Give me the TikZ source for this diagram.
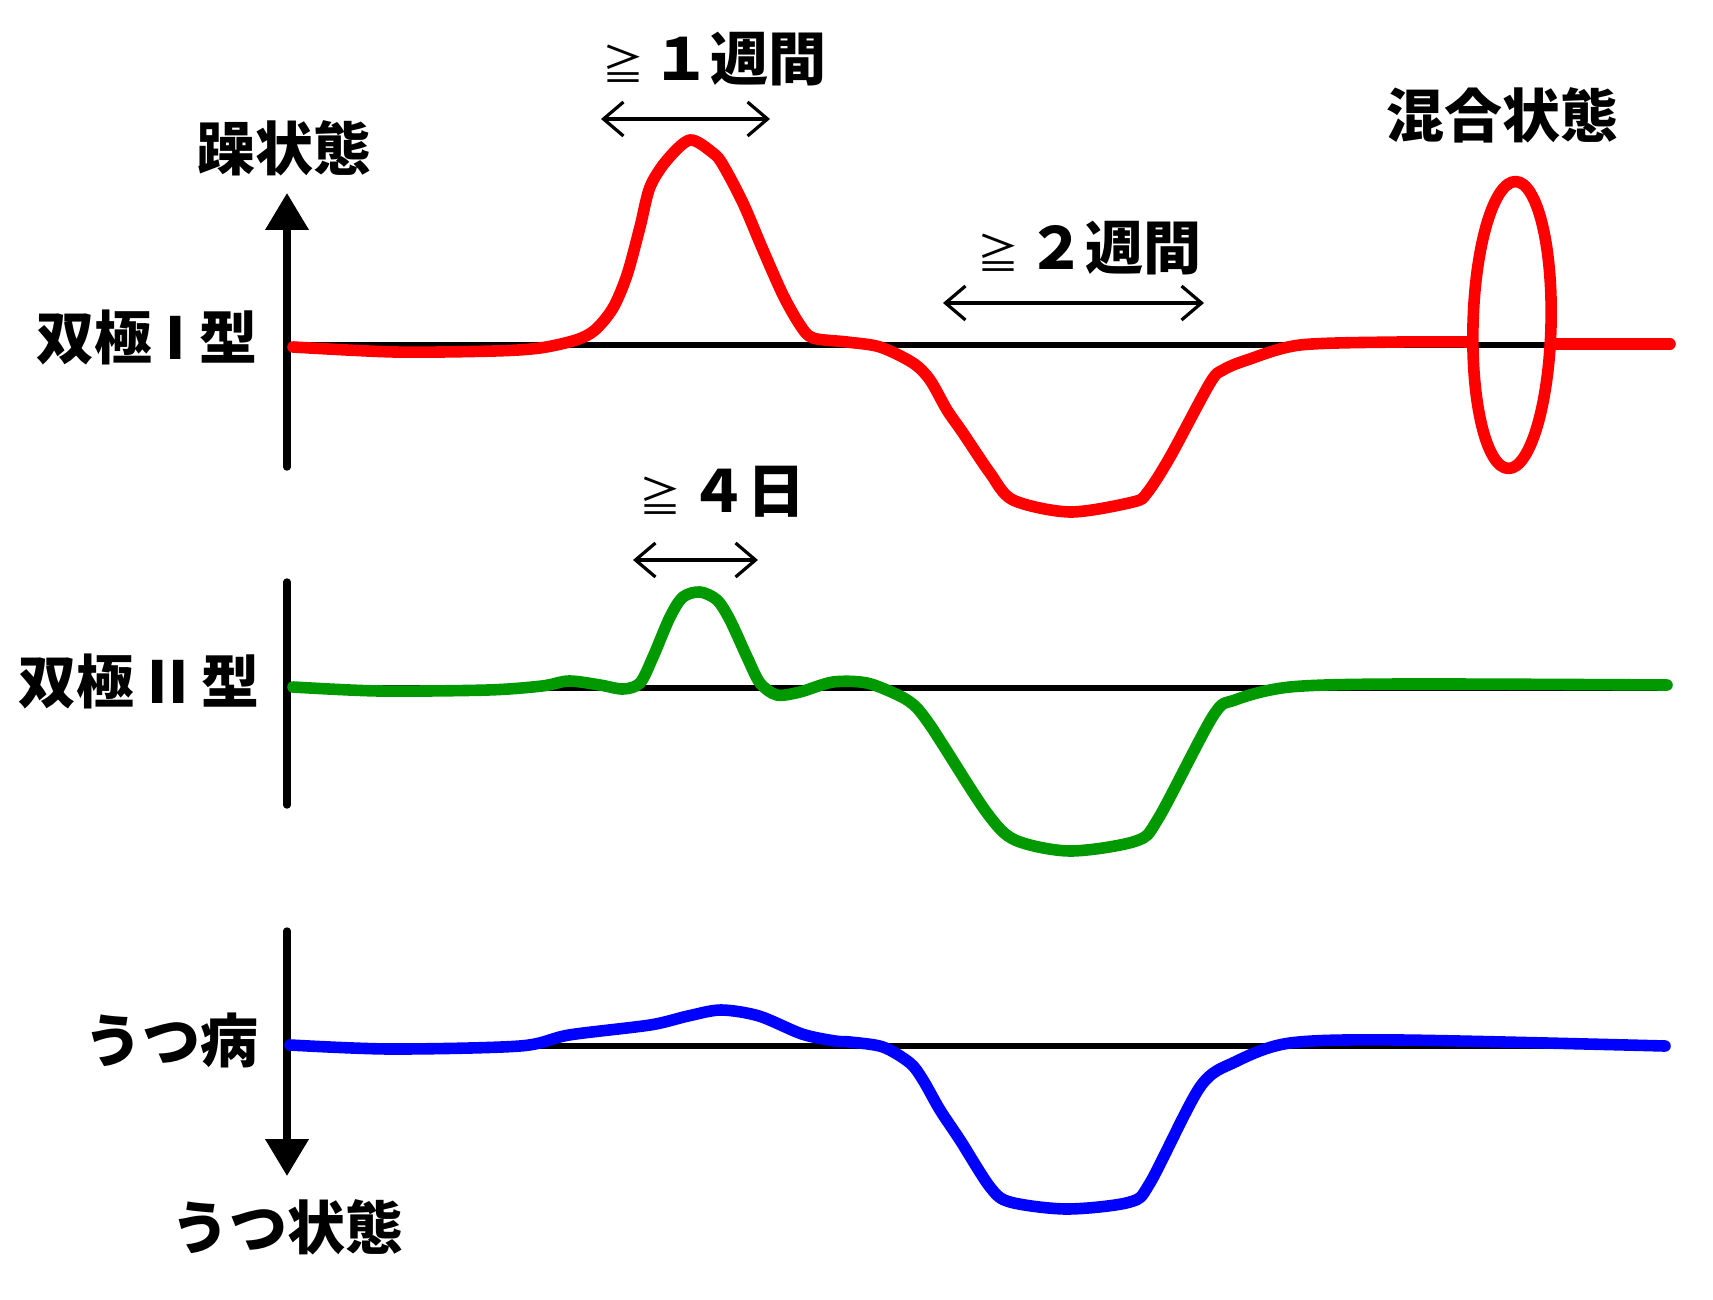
\documentclass[tikz,border=0pt]{standalone}
\usepackage{fontspec}
\setmainfont{Noto Sans CJK JP}
\usetikzlibrary{arrows.meta,shapes.geometric}
\definecolor{grn}{RGB}{0,153,0}
\newcommand\atleast{\makebox[1em]{\mdseries\fontsize{21}{21}\selectfont ≧}}

\begin{document}
\begin{tikzpicture}[x=0.5pt, y=-0.5pt, lbl/.style={font=\fontsize{29}{29}\selectfont\bfseries, inner sep=0pt}, ax/.style={line width=3.7pt, line cap=round}, zero/.style={line width=3.3pt}, span/.style={{Straight Barb[length=10pt,width=17pt]}-{Straight Barb[length=10pt,width=17pt]}, line width=1.6pt}, mood/.style={line width=5.8pt, line cap=round, line join=round}]
                \useasboundingbox (0,0) rectangle (1713,1300);
                % labels
                \node[lbl] (mania) at (284,148) {躁状態};
                \node[lbl] (bp1) at (147,337) {双極 I 型};
                \node[lbl] (bp2) at (139,681) {双極 II 型};
                \node[lbl] (mdd) at (171,1040) {うつ病};
                \node[lbl] (depr) at (287,1227) {うつ状態};
                \node[lbl] (w1) at (710,59) {\atleast １週間};
                \node[lbl] (w2) at (1085,248) {\atleast ２週間};
                \node[lbl] (d4) at (718,492) {\atleast ４日};
                \node[lbl] (mix) at (1502,115) {混合状態};
                % axes
                \draw[ax, -{Triangle[length=18.5pt,width=21pt]}] (287,467) -- (287,193);
                \draw[ax] (287,805) -- (287,582);
                \draw[ax, -{Triangle[length=18.5pt,width=21pt]}] (287,931) -- (287,1176);
                \draw[zero] (287,345) -- (1665,345);
                \draw[zero] (287,688) -- (1665,688);
                \draw[zero] (287,1046) -- (1665,1046);
                % spans
                \coordinate (w1a) at (601,119);
                \coordinate (w1b) at (770,119);
                \coordinate (w2a) at (943,303);
                \coordinate (w2b) at (1204,303);
                \coordinate (d4a) at (633,560);
                \coordinate (d4b) at (758,560);
                \draw[span] (w1a) -- (w1b);
                \draw[span] (w2a) -- (w2b);
                \draw[span] (d4a) -- (d4b);
                % curves
                \draw[mood, red] plot[smooth, tension=0.5] coordinates {(293,347) (395,352) (494,351) (540,348) (576,340) (595,330) (613,308) (627,275) (640,227) (650,187) (667,160) (690,140) (713,153) (723,165) (743,203) (763,250) (783,295) (800,325) (813,338) (847,342) (880,347) (913,363) (930,380) (947,410) (963,433) (990,473) (1013,500) (1070,512) (1133,502) (1147,493) (1170,457) (1210,383) (1223,370) (1247,360) (1300,345) (1400,342) (1471,342)};
                \node[mood, red, draw, ellipse, inner sep=0pt, minimum width=39pt, minimum height=143.5pt, rotate=-1.5] (mixed) at (1512,325) {};
                \draw[mood, red] (1551,344) -- (1670,344);
                \draw[mood, grn] plot[smooth, tension=0.5] coordinates {(293,687) (379,691) (488,690) (542,686) (569,681) (600,685) (623,689) (640,683) (653,657) (670,617) (683,597) (700,592) (717,600) (730,620) (747,657) (760,683) (777,695) (800,692) (833,682) (867,683) (900,696) (916,707) (930,725) (943,745) (987,813) (1015,840) (1070,851) (1136,841) (1158,819) (1213,716) (1235,700) (1290,687) (1400,684) (1667,685)};
                \draw[mood, blue] plot[smooth, tension=0.5] coordinates {(290,1045) (390,1049) (520,1046) (569,1035) (650,1025) (688,1016) (721,1010) (759,1016) (802,1034) (835,1041) (850,1042) (883,1047) (910,1063) (923,1080) (940,1110) (960,1140) (990,1187) (1010,1202) (1067,1209) (1130,1202) (1150,1183) (1200,1087) (1235,1062) (1290,1043) (1400,1040) (1665,1046)};
            \end{tikzpicture}
\end{document}
